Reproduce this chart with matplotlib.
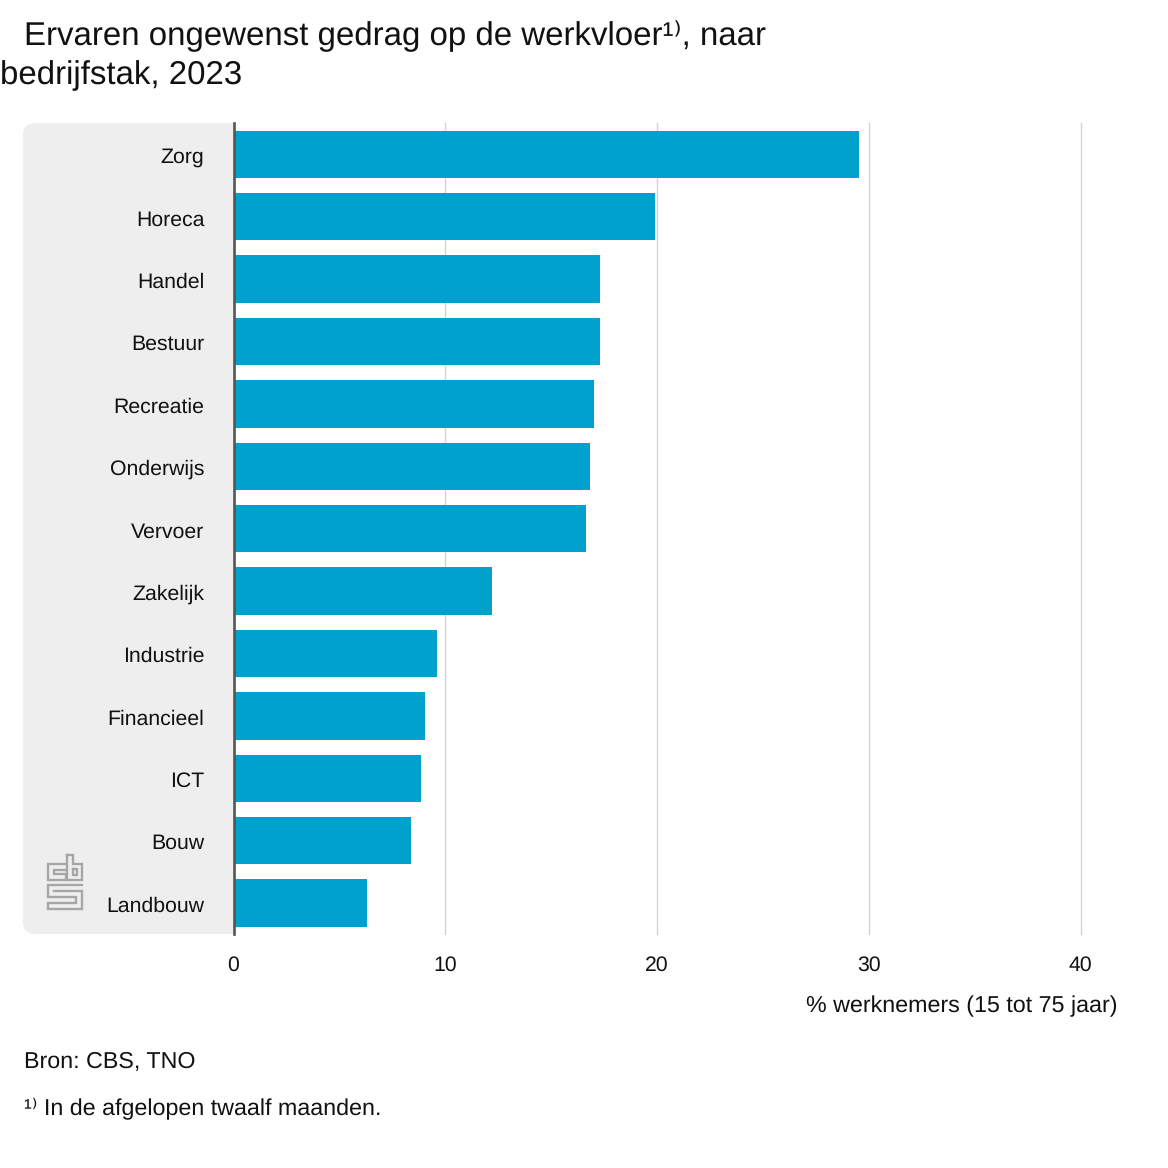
import matplotlib
matplotlib.use("Agg")
import matplotlib.pyplot as plt
from matplotlib.path import Path
from matplotlib.patches import PathPatch
from matplotlib.transforms import ScaledTranslation

plt.rcParams['font.family'] = ['Liberation Sans', 'DejaVu Sans']
plt.rcParams['text.hinting'] = 'no_hinting'
plt.rcParams['text.hinting_factor'] = 8

categories = ["Zorg", "Horeca", "Handel", "Bestuur", "Recreatie", "Onderwijs", "Vervoer",
              "Zakelijk", "Industrie", "Financieel", "ICT", "Bouw", "Landbouw"]
values = [29.55, 19.9, 17.3, 17.3, 17.03, 16.83, 16.65, 12.23, 9.6, 9.03, 8.85, 8.4, 6.3]
xticks = [0, 10, 20, 30, 40]

W = H = 1168
BLUE = "#00a1cd"
fig = plt.figure(figsize=(W / 100, H / 100), dpi=100, facecolor="white")

# pixel overlay for panel, logo and free text
bg = fig.add_axes([0, 0, 1, 1], zorder=0)
bg.set_xlim(0, W); bg.set_ylim(H, 0); bg.axis("off")

L, R, T, B, r = 23, 233, 123, 934, 12
verts = [(R, T), (L + r, T), (L, T), (L, T + r), (L, B - r), (L, B), (L + r, B), (R, B), (R, T)]
codes = [Path.MOVETO, Path.LINETO, Path.CURVE3, Path.CURVE3, Path.LINETO, Path.CURVE3, Path.CURVE3, Path.LINETO, Path.CLOSEPOLY]
bg.add_patch(PathPatch(Path(verts, codes), facecolor="#eeeeee", edgecolor="none"))

# CBS logo
logo = [
    [(66, 864), (48, 864), (48, 880), (66, 880), (66, 874), (54, 874), (54, 870), (66, 870)],
    [(67, 855), (67, 880), (82, 880), (82, 864), (73, 864), (73, 855), (67, 855)],
    [(73, 869), (77, 869), (77, 875), (73, 875), (73, 869)],
    [(82, 885), (48, 885), (48, 897), (76, 897), (76, 903), (48, 903), (48, 909), (82, 909), (82, 891), (54, 891)],
]
for seg in logo:
    bg.plot([p[0] for p in seg], [p[1] for p in seg], color="#a6a6a6", lw=1.7, solid_joinstyle="miter")

# title
bg.text(24, 45, "Ervaren ongewenst gedrag op de werkvloer¹⁾, naar", fontsize=23.75, color="#111111", va="baseline")
bg.text(0, 84, "bedrijfstak, 2023", fontsize=23.75, color="#111111", va="baseline")

# main axes
ax = fig.add_axes([233.5 / W, 1 - (B + 0.2) / H, (1080.5 - 233.5) / W, (B - T) / H], zorder=1)
ax.patch.set_alpha(0)
ypos = list(range(len(categories)))
ax.barh(ypos, values, height=0.76, color=BLUE, zorder=2)
ax.set_xlim(0, 40)
ax.set_ylim(len(categories) - 0.5, -0.5)
ax.set_xticks(xticks)
ax.set_yticks(ypos, categories)
ax.xaxis.grid(True, color="#d2d2d2", lw=1.0, zorder=1)
for g in ax.get_xgridlines():
    g.set_clip_on(False)
ax.set_axisbelow(True)
for s in ["top", "right", "bottom", "left"]:
    ax.spines[s].set_visible(False)
ax.axvline(0, color="#555555", lw=1.9, zorder=3, clip_on=False)
ax.tick_params(axis="x", length=0, pad=15.7, labelsize=15.3, labelcolor="#111111")
ax.tick_params(axis="y", length=0, pad=21, labelsize=15.3, labelcolor="#111111")
for lab in ax.get_yticklabels():
    lab.set_transform(lab.get_transform() + ScaledTranslation(0, -1.0 / 100, fig.dpi_scale_trans))

bg.text(1117, 1012, "% werknemers (15 tot 75 jaar)", fontsize=16.75, ha="right", va="baseline", color="#111111")
bg.text(24, 1068.5, "Bron: CBS, TNO", fontsize=16.75, va="baseline", color="#111111")
bg.text(24, 1115.5, "¹⁾ In de afgelopen twaalf maanden.", fontsize=16.75, va="baseline", color="#111111")

fig.savefig("out.png", dpi=100)
